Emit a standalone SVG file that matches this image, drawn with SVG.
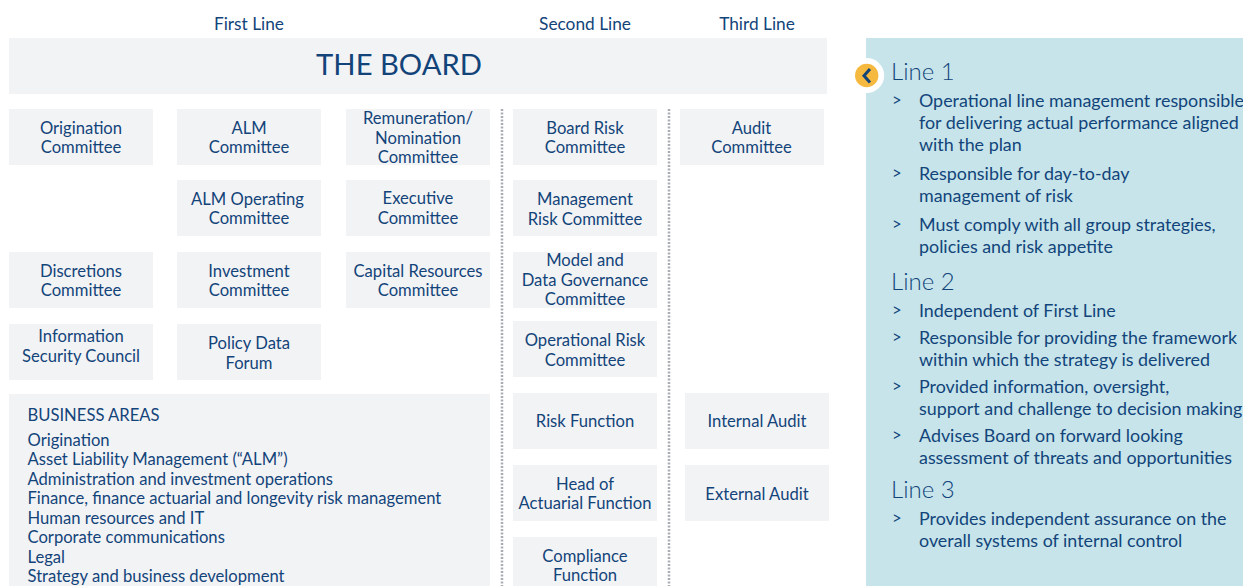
<svg xmlns="http://www.w3.org/2000/svg" width="1243" height="586" viewBox="0 0 1243 586">
<style>
text{font-family:Lato,"Noto Sans",sans-serif;fill:#12447a;font-size:16.62px}
.c{text-anchor:middle}
.b{fill:#f2f3f5}
.h{font-size:24px;font-weight:300}
.p{font-size:17.88px}
.d{stroke:#a9adb3;stroke-width:2.5;stroke-dasharray:2 1.5;fill:none}
</style>
<rect width="1243" height="586" fill="#fff"/>
<g id="headers"><text class="c" x="249" y="30" style="font-size:17.3px">First Line</text><text class="c" x="585" y="30" style="font-size:17.3px">Second Line</text><text class="c" x="757" y="30" style="font-size:17.3px">Third Line</text></g>
<g id="board"><rect class="b" x="9" y="38" width="818" height="56"/><text class="c" x="399" y="75" style="font-size:29.2px">THE BOARD</text></g>
<g id="connectors"><path class="d" d="M502 109V586"/><path class="d" d="M669 109V586"/></g>
<g id="origination"><rect class="b" x="9" y="109" width="144" height="56"/><text class="c" x="81" y="134">Origination</text><text class="c" x="81" y="153">Committee</text></g>
<g id="alm"><rect class="b" x="177" y="109" width="144" height="56"/><text class="c" x="249" y="134">ALM</text><text class="c" x="249" y="153">Committee</text></g>
<g id="remuneration"><rect class="b" x="346" y="109" width="144" height="56"/><text class="c" x="418" y="124">Remuneration/</text><text class="c" x="418" y="144">Nomination</text><text class="c" x="418" y="163">Committee</text></g>
<g id="board-risk"><rect class="b" x="513" y="109" width="144" height="56"/><text class="c" x="585" y="134">Board Risk</text><text class="c" x="585" y="153">Committee</text></g>
<g id="audit"><rect class="b" x="680" y="109" width="144" height="56"/><text class="c" x="751.500" y="134">Audit</text><text class="c" x="751.500" y="153">Committee</text></g>
<g id="alm-operating"><rect class="b" x="177" y="180" width="144" height="56"/><text class="c" x="247.500" y="205">ALM Operating</text><text class="c" x="249" y="224">Committee</text></g>
<g id="executive"><rect class="b" x="346" y="180" width="144" height="56"/><text class="c" x="418" y="204">Executive</text><text class="c" x="418" y="224">Committee</text></g>
<g id="management-risk"><rect class="b" x="513" y="180" width="144" height="56"/><text class="c" x="585" y="205">Management</text><text class="c" x="585" y="225">Risk Committee</text></g>
<g id="discretions"><rect class="b" x="9" y="252" width="144" height="56"/><text class="c" x="81" y="277">Discretions</text><text class="c" x="81" y="296">Committee</text></g>
<g id="investment"><rect class="b" x="177" y="252" width="144" height="56"/><text class="c" x="249" y="277">Investment</text><text class="c" x="249" y="296">Committee</text></g>
<g id="capital"><rect class="b" x="346" y="252" width="144" height="56"/><text class="c" x="418" y="277">Capital Resources</text><text class="c" x="418" y="296">Committee</text></g>
<g id="model"><rect class="b" x="513" y="252" width="144" height="56"/><text class="c" x="585" y="266">Model and</text><text class="c" x="585" y="286">Data Governance</text><text class="c" x="585" y="305">Committee</text></g>
<g id="infosec"><rect class="b" x="9" y="324" width="144" height="56"/><text class="c" x="81" y="342">Information</text><text class="c" x="81" y="362">Security Council</text></g>
<g id="policy"><rect class="b" x="177" y="324" width="144" height="56"/><text class="c" x="249" y="349">Policy Data</text><text class="c" x="249" y="369">Forum</text></g>
<g id="oprisk"><rect class="b" x="513" y="321" width="144" height="56"/><text class="c" x="585" y="346">Operational Risk</text><text class="c" x="585" y="366">Committee</text></g>
<g id="business-areas"><rect class="b" x="9" y="394" width="481" height="192"/>
<text x="27.500" y="421">BUSINESS AREAS</text>
<text x="27.500" y="446">Origination</text><text x="27.500" y="465">Asset Liability Management (“ALM”)</text><text x="27.500" y="485">Administration and investment operations</text><text x="27.500" y="504">Finance, finance actuarial and longevity risk management</text><text x="27.500" y="524">Human resources and IT</text><text x="27.500" y="543">Corporate communications</text><text x="27.500" y="563">Legal</text><text x="27.500" y="582">Strategy and business development</text></g>
<g id="risk-function"><rect class="b" x="513" y="393" width="144" height="56"/><text class="c" x="585" y="427">Risk Function</text></g>
<g id="internal-audit"><rect class="b" x="685" y="393" width="144" height="56"/><text class="c" x="757" y="427">Internal Audit</text></g>
<g id="actuarial"><rect class="b" x="513" y="465" width="144" height="56"/><text class="c" x="585" y="490">Head of</text><text class="c" x="585" y="509">Actuarial Function</text></g>
<g id="external-audit"><rect class="b" x="685" y="465" width="144" height="56"/><text class="c" x="757" y="500">External Audit</text></g>
<g id="compliance"><rect class="b" x="513" y="537" width="144" height="49"/><text class="c" x="585" y="562">Compliance</text><text class="c" x="585" y="581">Function</text></g>
<g id="panel"><rect x="866" y="38" width="377" height="548" fill="#c6e4ea"/>
<circle cx="866.700" cy="75.500" r="17.500" fill="#fff"/><circle cx="866.700" cy="75.500" r="11.700" fill="#f6b940"/><path d="M870 69L864 75.800L870 82.500" fill="none" stroke="#12447a" stroke-width="3"/>
<text class="h" x="891" y="80">Line 1</text>
<text x="892" y="106">&gt;</text><text class="p" x="919" y="107">Operational line management responsible</text><text class="p" x="919" y="129">for delivering actual performance aligned</text><text class="p" x="919" y="151">with the plan</text>
<text x="892" y="179">&gt;</text><text class="p" x="919" y="180">Responsible for day-to-day</text><text class="p" x="919" y="202">management of risk</text>
<text x="892" y="230">&gt;</text><text class="p" x="919" y="231">Must comply with all group strategies,</text><text class="p" x="919" y="253">policies and risk appetite</text>
<text class="h" x="891" y="290">Line 2</text>
<text x="892" y="316">&gt;</text><text class="p" x="919" y="317">Independent of First Line</text>
<text x="892" y="343">&gt;</text><text class="p" x="919" y="344">Responsible for providing the framework</text><text class="p" x="919" y="366">within which the strategy is delivered</text>
<text x="892" y="392">&gt;</text><text class="p" x="919" y="393">Provided information, oversight,</text><text class="p" x="919" y="415">support and challenge to decision making</text>
<text x="892" y="441">&gt;</text><text class="p" x="919" y="442">Advises Board on forward looking</text><text class="p" x="919" y="464">assessment of threats and opportunities</text>
<text class="h" x="891" y="498">Line 3</text>
<text x="892" y="524">&gt;</text><text class="p" x="919" y="525">Provides independent assurance on the</text><text class="p" x="919" y="547">overall systems of internal control</text>
</g>
</svg>
